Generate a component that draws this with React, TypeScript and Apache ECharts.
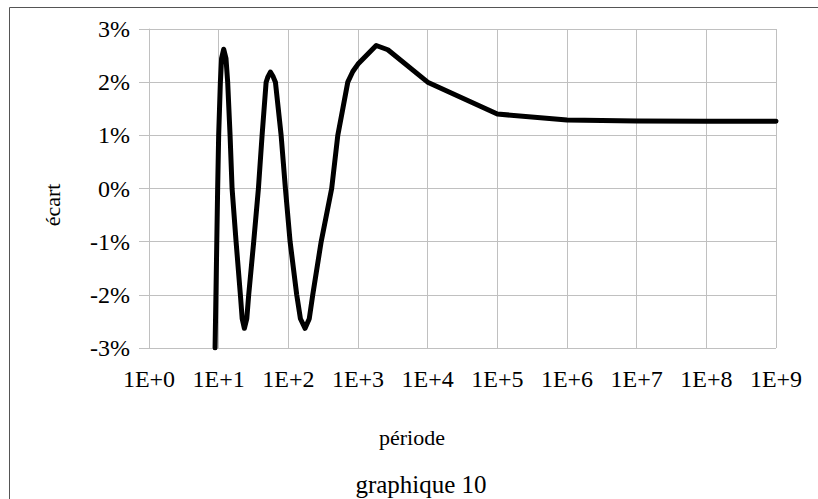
import React, { useEffect, useRef } from "react";
import * as echarts from "echarts";

// période (x) and écart in % (y)
const periods = [
  8.88, 9.67, 10, 10.58, 11.01, 11.8, 12.73, 13.47, 14.58, 15.58, 17.78, 20.5, 21.76, 23.4, 25.33, 26.98,
  31.84, 37.2, 42, 48, 50.9, 55.3, 60.7, 65.3, 78.8, 90.8, 106, 132, 149.2, 174, 199.7, 224, 296, 419,
  513, 609, 713, 842, 1000, 1825, 2680, 1e4, 1e5, 1e6, 1e7, 1e8, 1e9,
];
const ecart = [
  -3.0, 0, 1, 2, 2.45, 2.62, 2.45, 2, 1, 0, -1, -2, -2.45, -2.63, -2.45, -2,
  -1, 0, 1, 2, 2.1, 2.19, 2.1, 2, 1, 0, -1, -2, -2.45, -2.63, -2.45, -2, -1, 0,
  1, 1.52, 2, 2.2, 2.34, 2.69, 2.61, 2.0, 1.4, 1.29, 1.27, 1.265, 1.263,
];

const yMin = -3;
const yMax = 3;
const yStep = 1;
const xMin = 1;
const xMax = 1e9;

const title = "graphique 10";
const xName = "période";
const yName = "écart";

const FONT = "'Liberation Serif', 'Times New Roman', serif";

export default function App() {
  const ref = useRef<HTMLDivElement>(null);
  useEffect(() => {
    document.body.style.margin = "0";
    const chart = echarts.init(ref.current!, undefined, { renderer: "svg" });
    const grid = "#c0c0c0";
    chart.setOption({
      animation: false,
      backgroundColor: "#ffffff",
      grid: { left: 149, top: 29, right: 42, bottom: 151, containLabel: false },
      xAxis: {
        type: "log",
        logBase: 10,
        min: xMin,
        max: xMax,
        splitNumber: 9,
        axisLine: { show: true, lineStyle: { color: grid, width: 1 } },
        axisTick: { show: true, length: 10, lineStyle: { color: grid } },
        minorTick: { show: false },
        splitLine: { show: true, lineStyle: { color: grid, width: 1 } },
        axisLabel: {
          color: "#000",
          fontFamily: FONT,
          fontSize: 24,
          margin: 19,
          formatter: (v: number) => "1E+" + Math.round(Math.log10(v)),
        },
      },
      yAxis: {
        type: "value",
        min: yMin,
        max: yMax,
        interval: yStep,
        axisLine: { show: true, lineStyle: { color: grid, width: 1 } },
        axisTick: { show: true, length: 10, lineStyle: { color: grid } },
        splitLine: { show: true, lineStyle: { color: grid, width: 1 } },
        axisLabel: {
          color: "#000",
          fontFamily: FONT,
          fontSize: 24,
          margin: 19,
          formatter: (v: number) => v + "%",
        },
      },
      series: [
        {
          type: "line",
          data: periods.map((p, i) => [p, ecart[i]]),
          smooth: false,
          showSymbol: false,
          clip: true,
          lineStyle: { color: "#000", width: 5, cap: "round", join: "round" },
        },
      ],
      graphic: [
        {
          type: "rect",
          shape: { x: 9.5, y: 7.5, width: 900, height: 600 },
          style: { fill: "none", stroke: "#555", lineWidth: 1 },
          silent: true,
        },
        {
          type: "text",
          x: 52,
          y: 205,
          rotation: Math.PI / 2,
          style: { text: yName, fontFamily: FONT, fontSize: 22, fill: "#000", align: "center", verticalAlign: "middle" },
        },
        {
          type: "text",
          x: 412,
          y: 437,
          style: { text: xName, fontFamily: FONT, fontSize: 22, fill: "#000", align: "center", verticalAlign: "middle" },
        },
        {
          type: "text",
          x: 421,
          y: 484,
          style: { text: title, fontFamily: FONT, fontSize: 25, fill: "#000", align: "center", verticalAlign: "middle" },
        },
      ],
    });
    return () => chart.dispose();
  }, []);
  return <div ref={ref} style={{ width: 818, height: 499 }} />;
}
